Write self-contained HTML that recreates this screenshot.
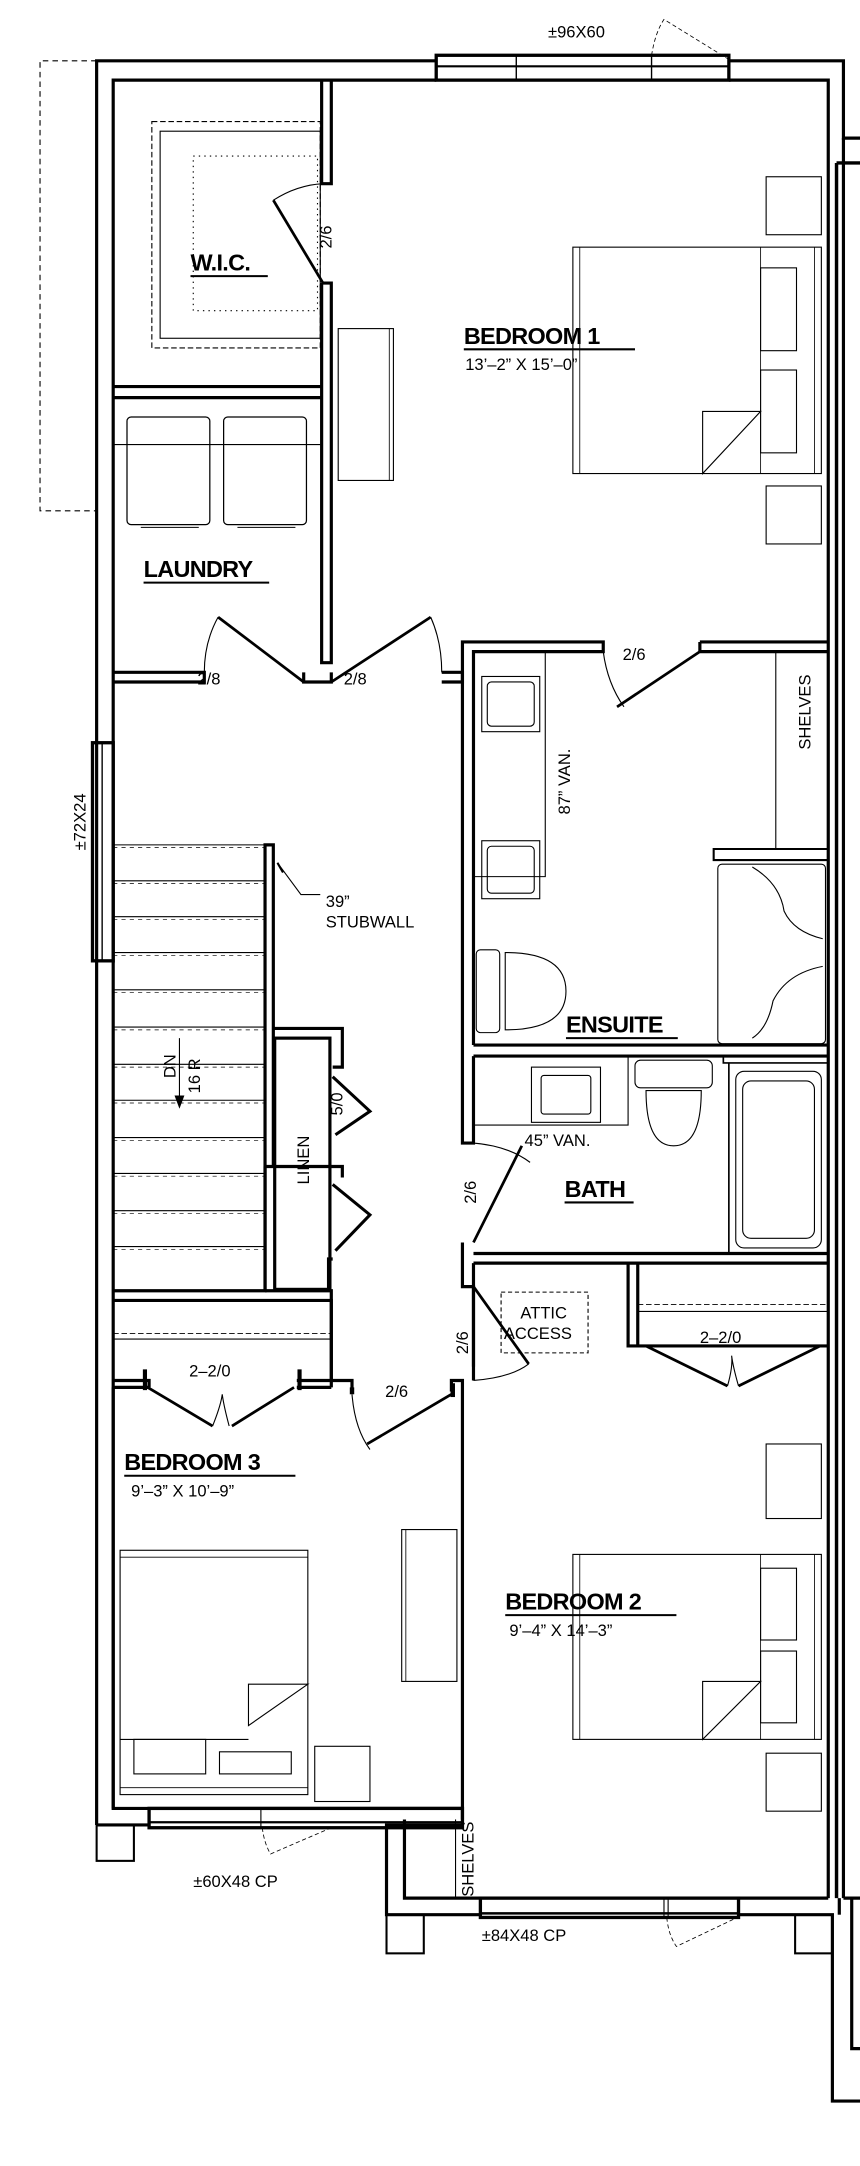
<!DOCTYPE html>
<html><head><meta charset="utf-8"><style>
html,body{margin:0;padding:0;background:#fff}
svg{display:block}
text{font-family:"Liberation Sans",sans-serif;fill:#000}
.lb{font-size:17px;font-weight:bold;letter-spacing:-0.5px}
.sm{font-size:12px}
.dm{font-size:12px}
</style></head><body>
<svg width="860" height="2166" viewBox="0 0 623 1569" xmlns="http://www.w3.org/2000/svg">
<g fill="none" stroke="#000" stroke-width="2.3">
<path d="M70 44 H29 V370 H70" stroke-width="0.8" stroke-dasharray="4 3"/>
<path d="M70 1322 V44 H316 M528 44 H611 V100 H623"/>
<path d="M82 1310 V58 H316 M528 58 H600 V1375"/>
<path d="M611 100 V1375"/>
<path d="M606 118 V1375 M606 118 H623" stroke-width="2.5"/>
<rect x="316" y="40" width="212" height="18" stroke-width="2.4"/>
<path d="M316 48 H528" stroke-width="1.5"/>
<path d="M374 40 V58 M472 40 V58" stroke-width="1"/>
<path d="M472 40 C474 28 477 20 481 14 L528 43" stroke-width="0.6" stroke-dasharray="3 2"/>
<rect x="67" y="538" width="15" height="158" stroke-width="2.4"/>
<path d="M74 538 V696" stroke-width="1"/>
<path d="M233 58 V133 H240 V58 M233 205 V480 H240 V205 H233"/>
<path d="M82 280 H233 M82 288 H233"/>
<path d="M234 205 L198 145" stroke-width="2"/>
<path d="M198 145 Q215 134 234 133" stroke-width="0.8"/>
<rect x="110" y="88" width="122" height="164" stroke-width="0.8" stroke-dasharray="4 2"/>
<rect x="116" y="95" width="116" height="150" stroke-width="0.8"/>
<rect x="140" y="113" width="90" height="112" stroke-width="0.8" stroke-dasharray="1 3"/>
<rect x="92" y="302" width="60" height="78" rx="3" stroke-width="0.9"/>
<rect x="162" y="302" width="60" height="78" rx="3" stroke-width="0.9"/>
<path d="M82 322 H232" stroke-width="0.8"/>
<path d="M102 382 H144 M172 382 H214" stroke-width="0.8"/>
<path d="M82 487 H148 V494 H82 M220 487 V494 H240 V487 M320 487 H335 V494 H320"/>
<path d="M220 494 L158 447" stroke-width="2"/>
<path d="M158 447 Q148 465 148 487" stroke-width="0.8"/>
<path d="M240 494 L312 447" stroke-width="2"/>
<path d="M312 447 Q320 465 320 487" stroke-width="0.8"/>
<rect x="245" y="238" width="40" height="110" stroke-width="0.8"/>
<path d="M282 238 V348" stroke-width="0.6"/>
<rect x="415" y="179" width="180" height="164" stroke-width="0.8"/>
<path d="M420 179 V343 M590 179 V343 M551 179 V343" stroke-width="0.6"/>
<rect x="551" y="194" width="26" height="60" stroke-width="0.8"/>
<rect x="551" y="268" width="26" height="60" stroke-width="0.8"/>
<path d="M509 343 V298 H551 Z" stroke-width="0.8"/>
<rect x="555" y="128" width="40" height="42" stroke-width="0.8"/>
<rect x="555" y="352" width="40" height="42" stroke-width="0.8"/>
<path d="M335 494 V465 H437 V472 H343 V757 M507 465 H600 M507 472 H600 M507 465 V472"/>
<path d="M507 472 L447 512" stroke-width="2"/>
<path d="M437 472 Q440 495 452 512" stroke-width="0.8"/>
<path d="M335 494 V828 H343 V765 M335 900 V932 H343 V1000"/>
<path d="M343 757 H600 M343 765 H600"/>
<path d="M343 908 H600 M343 915 H600"/>
<path d="M343 635 H395 V472" stroke-width="0.8"/>
<rect x="349" y="490" width="42" height="40" stroke-width="0.8"/>
<rect x="353" y="494" width="34" height="32" rx="3" stroke-width="0.8"/>
<rect x="349" y="609" width="42" height="42" stroke-width="0.8"/>
<rect x="353" y="613" width="34" height="34" rx="3" stroke-width="0.8"/>
<path d="M562 472 V615" stroke-width="0.8"/>
<path d="M517 615 H600 V623 H517 Z" stroke-width="1.5"/>
<rect x="520" y="626" width="78" height="130" rx="3" stroke-width="0.8"/>
<path d="M545 628 Q565 640 568 660 Q575 675 596 680 M596 700 Q570 705 560 725 Q556 745 545 752" stroke-width="0.8"/>
<rect x="345" y="688" width="17" height="60" rx="3" stroke-width="0.8"/>
<path d="M366 690 Q410 690 410 718 Q410 746 366 746 Z" stroke-width="0.8"/>
<path d="M343 815 H455 V765" stroke-width="0.8"/>
<rect x="385" y="773" width="50" height="40" stroke-width="0.8"/>
<rect x="392" y="779" width="36" height="28" rx="2" stroke-width="0.8"/>
<rect x="460" y="768" width="56" height="20" rx="4" stroke-width="0.8"/>
<path d="M468 790 Q468 830 488 830 Q508 830 508 790 Z" stroke-width="0.8"/>
<path d="M524 765 V770 H600 M528 770 V908" stroke-width="1.2"/>
<rect x="533" y="776" width="62" height="128" rx="6" stroke-width="0.8"/>
<rect x="538" y="783" width="52" height="114" rx="6" stroke-width="0.8"/>
<path d="M343 900 L378 830" stroke-width="2"/>
<path d="M343 828 Q368 830 384 842" stroke-width="0.8"/>
<path d="M343 915 V990"/>
<rect x="363" y="936" width="63" height="44" stroke-width="0.8" stroke-dasharray="3 2"/>
<path d="M343 932 L383 988" stroke-width="2"/>
<path d="M343 1000 Q370 998 383 988" stroke-width="0.8"/>
<path d="M455 915 V975 H462 V915 M462 975 H600"/>
<path d="M462 945 H600" stroke-width="0.7" stroke-dasharray="4 2"/>
<path d="M462 950 H600" stroke-width="0.8"/>
<path d="M468 975 L527 1004 M594 975 L535 1004" stroke-width="2"/>
<path d="M527 1004 Q531 990 530 982 Q531 990 535 1004" stroke-width="0.8"/>
<path d="M82 935 H192 V612 H198 V845"/>
<g stroke-width="0.8">
<path d="M82 612 H192 M82 638 H192 M82 664 H192 M82 690 H192 M82 717 H192 M82 744 H192 M82 771 H192 M82 797 H192 M82 824 H192 M82 850 H192 M82 877 H192 M82 903 H192"/>
<path d="M82 614 H192 M82 640 H192 M82 666 H192 M82 692 H192 M82 719 H192 M82 746 H192 M82 773 H192 M82 799 H192 M82 826 H192 M82 852 H192 M82 879 H192 M82 905 H192" stroke-dasharray="3 3" stroke-width="0.5"/>
<path d="M130 752 V800"/>
<path d="M127 794 L130 802 L133 794 Z" fill="#000"/>
<path d="M201 625 L218 648 H232"/>
<path d="M201 625 L205 632" stroke-width="1.5"/>
</g>
<path d="M192 845 V935 M192 845 H248 V853 M192 935 H240 V1000"/>
<rect x="199" y="752" width="40" height="182"/>
<path d="M198 745 H248 V773 H241"/>
<path d="M238 935 V912 H241"/>
<path d="M241 780 L268 805 L243 822 M241 858 L268 880 L243 906" stroke-width="2.2"/>
<path d="M82 942 H240 V1000 M82 1000 H108 V1005 M82 1005 H108 M215 1000 H240 V1005 M215 1005 H240"/>
<path d="M82 966 H240" stroke-width="0.7" stroke-dasharray="4 2"/>
<path d="M82 970 H240" stroke-width="0.8"/>
<path d="M105 992 V1007 M217 992 V1007" stroke-width="3"/>
<path d="M107 1005 L154 1033 M213 1005 L168 1033" stroke-width="2"/>
<path d="M154 1033 Q160 1018 161 1010 Q162 1018 166 1033" stroke-width="0.8"/>
<path d="M240 1000 H255 V1008 M82 1005 V1310 H335 V1000 H327 V1008 M335 1000 V1318"/>
<path d="M255 1005 V1010" stroke-width="3.2"/>
<path d="M328 1002 V1012" stroke-width="3.2"/>
<path d="M327 1010 L266 1046" stroke-width="2"/>
<path d="M255 1010 Q257 1035 268 1050" stroke-width="0.8"/>
<rect x="87" y="1123" width="136" height="177" stroke-width="0.8"/>
<path d="M87 1128 H223 M87 1295 H223" stroke-width="0.6"/>
<path d="M180 1250 V1220 H223 Z" stroke-width="0.8"/>
<path d="M87 1260 H180" stroke-width="0.8"/>
<rect x="97" y="1260" width="52" height="25" stroke-width="0.8"/>
<rect x="159" y="1269" width="52" height="16" stroke-width="0.8"/>
<rect x="291" y="1108" width="40" height="110" stroke-width="0.8"/>
<path d="M294 1108 V1218" stroke-width="0.6"/>
<rect x="228" y="1265" width="40" height="40" stroke-width="0.8"/>
<path d="M70 1322 H108 M335 1322 H280 V1387 H348 M293 1318 V1375 H348"/>
<rect x="108" y="1310" width="227" height="14" stroke-width="2.4"/>
<path d="M108 1320 H335" stroke-width="1.6"/>
<path d="M189 1310 V1324" stroke-width="0.8"/>
<path d="M190 1324 C191 1332 193 1338 196 1343 L240 1324" stroke-width="0.6" stroke-dasharray="3 2"/>
<path d="M330 1318 V1375" stroke-width="0.8"/>
<rect x="70" y="1322" width="27" height="26" stroke-width="1.5"/>
<rect x="348" y="1375" width="187" height="14" stroke-width="2.4"/>
<path d="M348 1386 H535" stroke-width="1.8"/>
<path d="M481 1375 V1389 M484 1375 V1389" stroke-width="0.8"/>
<path d="M483 1389 C484 1398 486 1404 490 1410 L532 1390" stroke-width="0.6" stroke-dasharray="3 2"/>
<path d="M535 1375 H600 M535 1387 H603 V1522 H623 M611 1375 H623 M617 1375 V1484 H623"/>
<path d="M608 1375 V1387"/>
<rect x="280" y="1387" width="27" height="28" stroke-width="1.5"/>
<rect x="576" y="1387" width="27" height="28" stroke-width="1.5"/>
<rect x="415" y="1126" width="180" height="134" stroke-width="0.8"/>
<path d="M420 1126 V1260 M590 1126 V1260 M551 1126 V1260" stroke-width="0.6"/>
<rect x="551" y="1136" width="26" height="52" stroke-width="0.8"/>
<rect x="551" y="1196" width="26" height="52" stroke-width="0.8"/>
<path d="M509 1260 V1218 H551 Z" stroke-width="0.8"/>
<rect x="555" y="1046" width="40" height="54" stroke-width="0.8"/>
<rect x="555" y="1270" width="40" height="42" stroke-width="0.8"/>
</g>
<text x="138" y="196" class="lb">W.I.C.</text><path d="M138 200 H194" stroke="#000" stroke-width="1.5"/>
<text x="336" y="249" class="lb">BEDROOM 1</text><path d="M336 253 H460" stroke="#000" stroke-width="1.5"/>
<text x="337" y="268" class="dm">13’–2” X 15’–0”</text>
<text x="104" y="418" class="lb">LAUNDRY</text><path d="M104 422 H195" stroke="#000" stroke-width="1.5"/>
<text x="143" y="496" class="sm">2/8</text>
<text x="249" y="496" class="sm">2/8</text>
<text x="451" y="478" class="sm">2/6</text>
<text x="410" y="748" class="lb">ENSUITE</text><path d="M410 752 H491" stroke="#000" stroke-width="1.5"/>
<text x="409" y="867" class="lb">BATH</text><path d="M409 871 H459" stroke="#000" stroke-width="1.5"/>
<text x="380" y="830" class="sm">45” VAN.</text>
<text x="377" y="955" class="sm" font-size="11">ATTIC</text>
<text x="365" y="970" class="sm" font-size="11">ACCESS</text>
<text x="507" y="973" class="sm">2–2/0</text>
<text x="137" y="997" class="sm">2–2/0</text>
<text x="279" y="1012" class="sm">2/6</text>
<text x="90" y="1065" class="lb">BEDROOM 3</text><path d="M90 1069 H214" stroke="#000" stroke-width="1.5"/>
<text x="95" y="1084" class="dm">9’–3” X 10’–9”</text>
<text x="366" y="1166" class="lb">BEDROOM 2</text><path d="M366 1170 H490" stroke="#000" stroke-width="1.5"/>
<text x="369" y="1185" class="dm">9’–4” X 14’–3”</text>
<text x="397" y="27" class="sm">±96X60</text>
<text x="140" y="1367" class="sm">±60X48 CP</text>
<text x="349" y="1406" class="sm">±84X48 CP</text>
<text x="236" y="657" class="sm">39”</text>
<text x="236" y="672" class="sm">STUBWALL</text>
<text transform="translate(240 180) rotate(-90)" class="sm">2/6</text>
<text transform="translate(413 590) rotate(-90)" class="sm">87” VAN.</text>
<text transform="translate(587 543) rotate(-90)" class="sm">SHELVES</text>
<text transform="translate(62 616) rotate(-90)" class="sm">±72X24</text>
<text transform="translate(127 781) rotate(-90)" class="sm" font-size="11">DN</text>
<text transform="translate(145 792) rotate(-90)" class="sm" font-size="11">16 R</text>
<text transform="translate(224 858) rotate(-90)" class="sm" font-size="11">LINEN</text>
<text transform="translate(248 808) rotate(-90)" class="sm">5/0</text>
<text transform="translate(345 872) rotate(-90)" class="sm">2/6</text>
<text transform="translate(339 981) rotate(-90)" class="sm">2/6</text>
<text transform="translate(343 1374) rotate(-90)" class="sm" font-size="11">SHELVES</text>
</svg>
</body></html>
